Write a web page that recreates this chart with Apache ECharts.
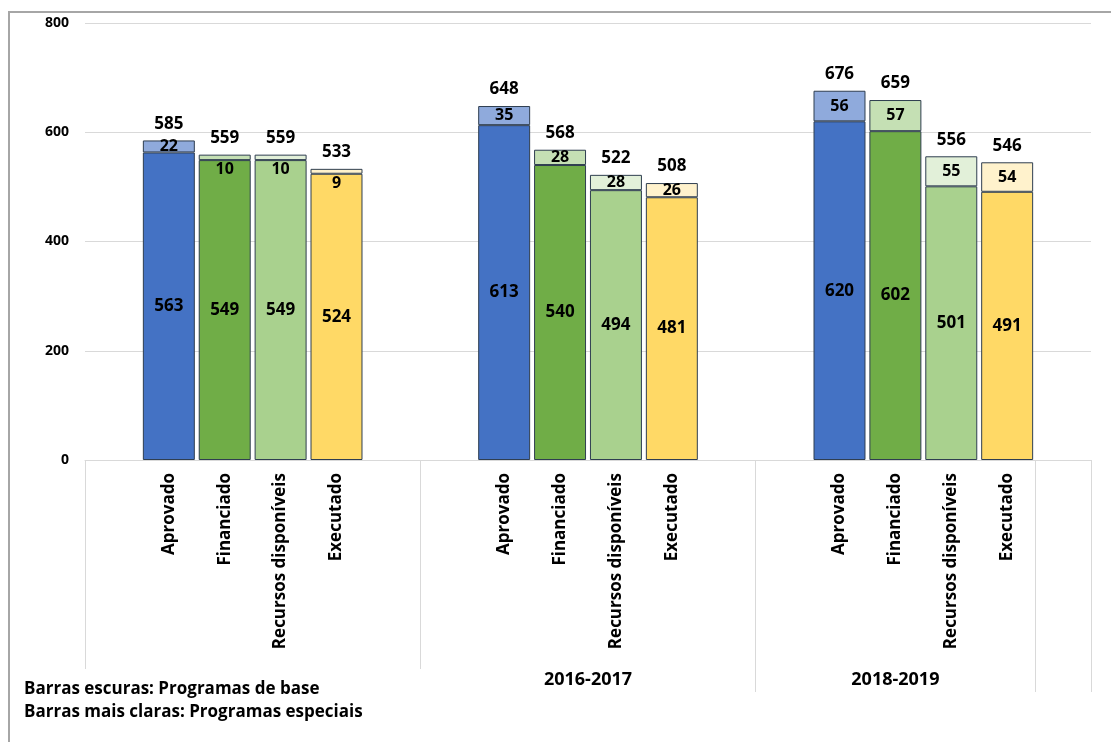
<!DOCTYPE html>
<html>
<head>
<meta charset="utf-8">
<script src="https://cdn.jsdelivr.net/npm/echarts@6/dist/echarts.min.js"></script>
<style>
  html, body { margin: 0; padding: 0; background: #fff; }
  #chart { width: 1111px; height: 742px; }
</style>
</head>
<body>
<div id="chart"></div>
<script>
// fases e periodos
var phases = ['Aprovado', 'Financiado', 'Recursos disponíveis', 'Executado'];
var periods = ['', '2016-2017', '2018-2019'];   // 1o periodo sem rotulo visivel

// programas de base (barras escuras)
var base1 = [563, 549, 549, 524];
var base2 = [613, 540, 494, 481];
var base3 = [620, 602, 501, 491];
// programas especiais (barras mais claras)
var special1 = [22, 10, 10, 9];
var special2 = [35, 28, 28, 26];
var special3 = [56, 57, 55, 54];
// totais mostrados no topo
var total1 = [585, 559, 559, 533];
var total2 = [648, 568, 522, 508];
var total3 = [676, 659, 556, 546];

var yTicks = [0, 200, 400, 600, 800];

var baseColors = ['#4472C4', '#70AD47', '#A9D18E', '#FFD966'];
var specialColors = ['#8FAADC', '#C5E0B4', '#E2F0D9', '#FFF2CC'];
var FONT = 'Open Sans';

var baseValues = [base1, base2, base3];
var specialValues = [special1, special2, special3];
var totalValues = [total1, total2, total3];

// monta as categorias: vazio, 4 fases, vazio por grupo (como no Excel)
var categories = [];
var slots = [];
var groupBounds = [];
for (var g = 0; g < periods.length; g++) {
    var start = categories.length;
    categories.push(''); slots.push(null);
    for (var p = 0; p < phases.length; p++) {
        categories.push(phases[p]); slots.push([g, p]);
    }
    if (g < periods.length - 1) { categories.push(''); slots.push(null); }
    groupBounds.push([start, categories.length]);
}
categories.push(''); slots.push(null);

var separators = [];
var labelPos = [];
var labelText = {};
for (var i = 0; i < groupBounds.length; i++) {
    separators.push(groupBounds[i][0]);
    var c = (groupBounds[i][0] + groupBounds[i][1]) / 2;
    if (periods[i]) { labelPos.push(c); labelText[c] = periods[i]; }
}
separators.push(groupBounds[groupBounds.length - 1][1]);
separators.push(categories.length);

var baseData = [], specialData = [], totalData = [];
for (var k = 0; k < slots.length; k++) {
    var s = slots[k];
    if (!s) { baseData.push('-'); specialData.push('-'); totalData.push('-'); continue; }
    var bv = baseValues[s[0]][s[1]], sv = specialValues[s[0]][s[1]];
    baseData.push({ value: bv, itemStyle: { color: baseColors[s[1]] } });
    var sItem = { value: sv, itemStyle: { color: specialColors[s[1]] } };
    if (sv < 15) sItem.label = { offset: [0, 12] };   // o Excel empurra rotulos pequenos para baixo
    specialData.push(sItem);
    totalData.push({ value: 0, total: totalValues[s[0]][s[1]] });
}

var chart = echarts.init(document.getElementById('chart'));
var option = {
    animation: false,
    textStyle: { fontFamily: FONT },
    grid: { left: 85, right: 20, top: 23, bottom: 282 },
    xAxis: [
        {
            type: 'category',
            data: categories,
            axisLine: { lineStyle: { color: '#D9D9D9', width: 1 } },
            axisTick: { show: false },
            axisLabel: {
                rotate: 90, interval: 0, margin: 13,
                fontFamily: FONT, fontSize: 17, fontWeight: 'bold', color: '#000'
            }
        },
        {
            type: 'value',
            position: 'bottom',
            min: 0, max: categories.length,
            axisLine: { show: false },
            splitLine: { show: false },
            axisTick: {
                show: true, length: 232, customValues: separators,
                lineStyle: { color: '#D9D9D9', width: 1 }
            },
            axisLabel: {
                customValues: labelPos, margin: 211,
                fontFamily: FONT, fontSize: 18, fontWeight: 'bold', color: '#000',
                formatter: function (v) { return labelText[v] || ''; }
            }
        }
    ],
    yAxis: {
        type: 'value',
        min: yTicks[0], max: yTicks[yTicks.length - 1], interval: yTicks[1] - yTicks[0],
        axisLine: { show: false },
        axisTick: { show: false },
        splitLine: { lineStyle: { color: '#D9D9D9', width: 1 } },
        axisLabel: { margin: 16, fontFamily: FONT, fontSize: 14, fontWeight: 'bold', color: '#000' }
    },
    series: [
        {
            name: 'Programas de base', type: 'bar', stack: 'tot',
            barWidth: '93%',
            itemStyle: { borderColor: '#2F3E50', borderWidth: 1 },
            label: { show: true, position: 'inside', fontFamily: FONT, fontSize: 17, fontWeight: 'bold', color: '#000' },
            data: baseData
        },
        {
            name: 'Programas especiais', type: 'bar', stack: 'tot',
            barWidth: '93%',
            itemStyle: { borderColor: '#2F3E50', borderWidth: 1 },
            label: { show: true, position: 'inside', fontFamily: FONT, fontSize: 16, fontWeight: 'bold', color: '#000' },
            data: specialData
        },
        {
            name: 'Total', type: 'bar', stack: 'tot',
            barWidth: '93%',
            itemStyle: { color: 'rgba(0,0,0,0)', borderWidth: 0 },
            label: {
                show: true, position: 'top', distance: 8,
                fontFamily: FONT, fontSize: 17, fontWeight: 'bold', color: '#000',
                formatter: function (p) { return p.data.total; }
            },
            data: totalData
        }
    ],
    graphic: [
        {
            type: 'rect', z: 100, silent: true,
            shape: { x: 9, y: 12, width: 1200, height: 800 },
            style: { fill: 'none', stroke: '#A6A6A6', lineWidth: 2 }
        },
        {
            type: 'rect', z: 100, silent: true,
            shape: { x: 12, y: 669, width: 520, height: 70 },
            style: { fill: '#fff' }
        },
        {
            type: 'text', z: 101, left: 24, top: 678,
            style: {
                text: 'Barras escuras: Programas de base\nBarras mais claras: Programas especiais',
                font: 'bold 17px "Open Sans"', fill: '#000', lineHeight: 23
            }
        }
    ]
};
chart.setOption(option);
</script>
</body>
</html>
